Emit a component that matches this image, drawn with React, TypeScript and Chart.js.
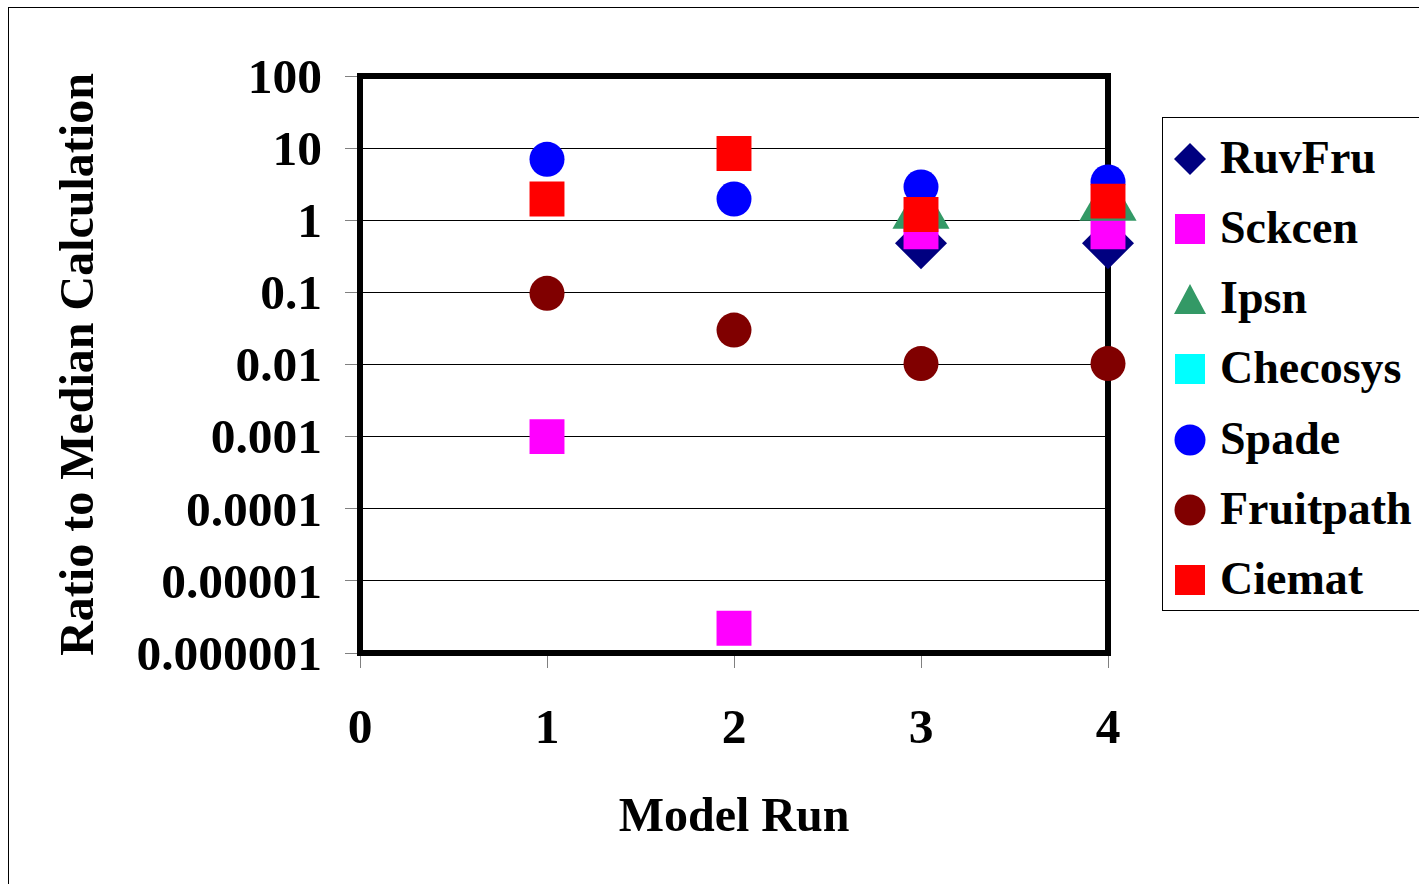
import React, { useEffect, useRef } from "react";
import { Chart, registerables } from "chart.js";

Chart.register(...registerables);

// ---- data ----
const runs = [1, 2, 3, 4];
const seriesNames = ["RuvFru", "Sckcen", "Ipsn", "Checosys", "Spade", "Fruitpath", "Ciemat"];
const ruvFru = [null, null, 0.48, 0.48];
const sckcen = [0.001, 0.0000022, 0.69, 0.69];
const ipsn = [null, null, 1.29, 1.67];
const checosys = [null, null, null, null];
const spade = [7.0, 1.97, 2.9, 3.4];
const fruitpath = [0.097, 0.03, 0.0103, 0.0103];
const ciemat = [1.97, 8.4, 1.2, 1.84];

const yTickValues = [0.000001, 0.00001, 0.0001, 0.001, 0.01, 0.1, 1, 10, 100];
const yTickLabels = ["0.000001", "0.00001", "0.0001", "0.001", "0.01", "0.1", "1", "10", "100"];
const xTickValues = [0, 1, 2, 3, 4];
const xTickLabels = ["0", "1", "2", "3", "4"];

const seriesValues = [ruvFru, sckcen, ipsn, checosys, spade, fruitpath, ciemat];
const seriesColors = ["#000080", "#FF00FF", "#339966", "#00FFFF", "#0000FF", "#800000", "#FF0000"];
const seriesShapes = ["rectRot", "rect", "triangle", "rect", "circle", "circle", "rect"];
const seriesRadius = [26, 24.7, 33, 24.7, 17.5, 17.5, 24.7];

const FONT = '"Liberation Serif", "Times New Roman", serif';

if (typeof document !== "undefined") {
  document.body.style.margin = "0";
  document.documentElement.style.overflow = "hidden";
}

const framePlugin = {
  id: "frame",
  beforeDatasetsDraw(chart: any) {
    const { ctx, chartArea } = chart;
    const { left, top, right, bottom } = chartArea;
    ctx.save();
    ctx.lineWidth = 6;
    ctx.strokeStyle = "#000";
    ctx.strokeRect(left, top, right - left, bottom - top);
    ctx.restore();
  },
};

function LegendMarker({ shape, color }: { shape: string; color: string }) {
  let el: any;
  if (shape === "rectRot") el = <polygon points="16,0 32,16 16,32 0,16" fill={color} />;
  else if (shape === "triangle") el = <polygon points="16,1 32,31 0,31" fill={color} />;
  else if (shape === "circle") el = <circle cx="16" cy="16" r="15.5" fill={color} />;
  else el = <rect x="1" y="1" width="30" height="30" fill={color} />;
  return (
    <svg width="32" height="32" style={{ display: "block" }}>
      {el}
    </svg>
  );
}

export default function App() {
  const canvasRef = useRef<HTMLCanvasElement | null>(null);

  useEffect(() => {
    document.body.style.margin = "0";
    document.documentElement.style.overflow = "hidden";
    if (!canvasRef.current) return;
    const datasets = seriesNames.map((name, i) => ({
      label: name,
      data: runs.map((r, j) => ({ x: r, y: seriesValues[i][j] })),
      backgroundColor: seriesColors[i],
      borderColor: seriesColors[i],
      borderWidth: 0,
      pointStyle: seriesShapes[i],
      pointRadius: seriesRadius[i],
      pointHoverRadius: seriesRadius[i],
      pointBorderWidth: 0,
      showLine: false,
      clip: false,
      order: seriesNames.length - i,
    }));

    const chart = new Chart(canvasRef.current, {
      type: "scatter",
      data: { datasets: datasets as any },
      plugins: [framePlugin],
      options: {
        animation: false,
        responsive: true,
        maintainAspectRatio: false,
        layout: { padding: { left: 0, right: 303, top: 68, bottom: 0 } },
        plugins: { legend: { display: false }, tooltip: { enabled: false } },
        scales: {
          x: {
            type: "linear",
            min: 0,
            max: 4,
            afterBuildTicks: (scale: any) => {
              scale.ticks = xTickValues.map((v) => ({ value: v }));
            },
            afterFit: (scale: any) => {
              scale.height = 223;
            },
            ticks: {
              autoSkip: false,
              maxRotation: 0,
              padding: 33,
              color: "#000",
              font: { family: FONT, size: 49.5, weight: "bold", lineHeight: 1.2 },
              callback: (v: any, i: number) => xTickLabels[i],
            },
            grid: {
              drawOnChartArea: false,
              drawTicks: true,
              tickLength: 15,
              tickColor: "#808080",
              tickWidth: 1,
            },
            border: { display: false },
            title: {
              display: true,
              text: "Model Run",
              color: "#000",
              font: { family: FONT, size: 48, weight: "bold", lineHeight: 1 },
              padding: { top: 0, bottom: 33 },
            },
          },
          y: {
            type: "logarithmic",
            min: 0.000001,
            max: 100,
            afterBuildTicks: (scale: any) => {
              scale.ticks = yTickValues.map((v) => ({ value: v, major: true }));
            },
            afterFit: (scale: any) => {
              scale.width = 352;
            },
            ticks: {
              autoSkip: false,
              padding: 23,
              labelOffset: 4,
              color: "#000",
              font: { family: FONT, size: 49.5, weight: "bold", lineHeight: 1.2 },
              callback: (v: any, i: number) => yTickLabels[i],
            },
            grid: {
              color: "#000",
              lineWidth: 1,
              drawTicks: true,
              tickLength: 15,
              tickColor: "#808080",
              tickWidth: 1,
            },
            border: { display: false },
            title: {
              display: true,
              text: "Ratio to Median Calculation",
              color: "#000",
              font: { family: FONT, size: 48, weight: "bold", lineHeight: 1 },
              padding: { top: 49, bottom: 0 },
            },
          },
        },
      },
    });
    return () => chart.destroy();
  }, []);

  const rowCenters = [41, 111, 181, 251, 322, 392, 462];

  return (
    <div style={{ position: "relative", width: 1419, height: 884, overflow: "hidden" }}>
      <div
        style={{
          position: "absolute",
          left: 8,
          top: 7,
          width: 1411,
          height: 877,
          borderLeft: "1px solid #000",
          borderTop: "1px solid #000",
          boxSizing: "border-box",
          pointerEvents: "none",
        }}
      />
      <div style={{ position: "absolute", left: 8, top: 8, width: 1403, height: 868 }}>
        <canvas ref={canvasRef} />
      </div>
      <div
        style={{
          position: "absolute",
          left: 1162,
          top: 117,
          width: 257,
          height: 494,
          borderLeft: "1px solid #000",
          borderTop: "1px solid #000",
          borderBottom: "1px solid #000",
          boxSizing: "border-box",
          background: "#fff",
          overflow: "hidden",
        }}
      >
        {seriesNames.map((name, i) => (
          <div
            key={name}
            style={{
              position: "absolute",
              left: 0,
              top: rowCenters[i] - 35,
              height: 70,
              display: "flex",
              alignItems: "center",
              whiteSpace: "nowrap",
            }}
          >
            <div style={{ width: 32, marginLeft: 11, marginRight: 14 }}>
              <LegendMarker shape={seriesShapes[i]} color={seriesColors[i]} />
            </div>
            <span
              style={{
                fontFamily: FONT,
                fontWeight: "bold",
                fontSize: 46,
                lineHeight: "70px",
                color: "#000",
                position: "relative",
                top: -1,
              }}
            >
              {name}
            </span>
          </div>
        ))}
      </div>
    </div>
  );
}
